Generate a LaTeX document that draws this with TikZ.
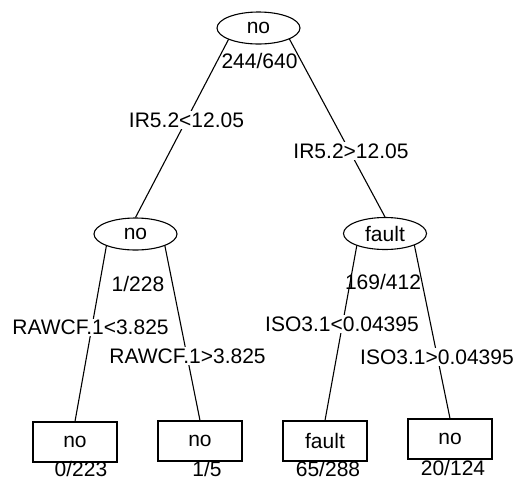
\documentclass[tikz,border=0pt]{standalone}
\usepackage{fontspec}
\setmainfont{Liberation Sans}
\pgfdeclarelayer{bg}
\pgfsetlayers{bg,main}
\tikzset{
  every node/.style={font=\fontsize{21}{24}\selectfont, inner sep=0pt},
  inner/.style={ellipse, draw, fill=white, line width=1.1pt, minimum width=83pt, minimum height=32pt},
  leaf/.style={rectangle, draw, fill=white, line width=1.1pt, minimum width=84pt, minimum height=40pt},
  cond/.style={fill=white, inner sep=1.5pt},
  cnt/.style={},
  edge/.style={line width=1.1pt}
}
\usetikzlibrary{shapes.geometric}
\begin{document}
\begin{tikzpicture}[x=1pt,y=-1pt]
\useasboundingbox (0,0) rectangle (514,480);
% inner nodes
\node[inner] (root) at (258.5,28) {no};
\node[inner] (n1) at (135.5,234) {no};
\node[inner] (n2) at (385,233.5) {fault};
% leaves
\node[leaf] (l1) at (75,442) {no};
\node[leaf] (l2) at (200,441) {no};
\node[leaf] (l3) at (325,441) {fault};
\node[leaf] (l4) at (450,439) {no};
% connectors
\begin{pgfonlayer}{bg}
\draw[edge] ([shift={(-24,0)}]root.center) -- (n1.north);
\draw[edge] ([shift={(25,0)}]root.center) -- (n2.north);
\draw[edge] ([shift={(-27,0)}]n1.center) -- (l1.north);
\draw[edge] ([shift={(27,0)}]n1.center) -- (l2.north);
\draw[edge] ([shift={(-26,0)}]n2.center) -- (l3.north);
\draw[edge] ([shift={(27,0)}]n2.center) -- (l4.north);
\end{pgfonlayer}
% condition labels
\node[cond] (c1) at (186.5,120) {IR5.2<12.05};
\node[cond] (c2) at (351,151) {IR5.2>12.05};
\node[cond] (c3) at (90.5,327.5) {RAWCF.1<3.825};
\node[cond] (c4) at (187.5,356) {RAWCF.1>3.825};
\node[cond] (c5) at (342,324) {ISO3.1<0.04395};
\node[cond] (c6) at (437,357) {ISO3.1>0.04395};
% counts
\node[cnt] (k0) at (259.5,61) {244/640};
\node[cnt] (k1) at (138,284) {1/228};
\node[cnt] (k2) at (383,282) {169/412};
\node[cnt] (k3) at (81,469) {0/223};
\node[cnt] (k4) at (207,469) {1/5};
\node[cnt] (k5) at (328,469) {65/288};
\node[cnt] (k6) at (453,468) {20/124};
\end{tikzpicture}
\end{document}
